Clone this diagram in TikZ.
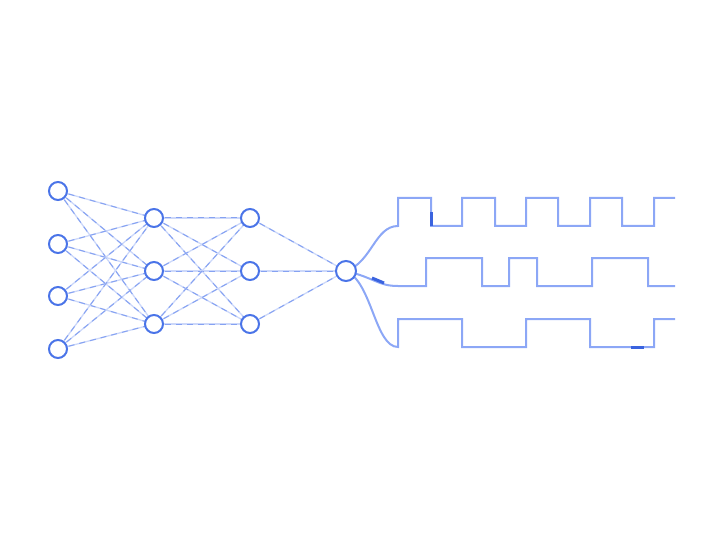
\documentclass[tikz,border=0pt]{standalone}
\usetikzlibrary{calc}
\definecolor{nodeblue}{HTML}{4A74E8}
\definecolor{edgelight}{HTML}{CCD8FA}
\definecolor{edgedash}{HTML}{86A2F2}
\definecolor{wave}{HTML}{8CA7F6}
\definecolor{pulse}{HTML}{3A63DF}
\tikzset{
  neuron/.style={circle, draw=nodeblue, fill=white, line width=2pt, minimum size=18pt, inner sep=0pt},
  outneuron/.style={neuron, minimum size=20pt},
  edgebase/.style={draw=edgelight, line width=1.3pt},
  edgedsh/.style={draw=edgedash, line width=1pt, dash pattern=on 6pt off 5pt},
  wavel/.style={draw=wave, line width=2pt, line join=miter},
  pulsel/.style={draw=pulse, line width=3pt},
}
\begin{document}
\begin{tikzpicture}[x=1pt,y=-1pt]
\useasboundingbox (0,0) rectangle (720,540);
% coordinates
\foreach \n/\y in {1/191,2/244,3/296,4/349} \coordinate (pi\n) at (58,\y);
\foreach \n/\y in {1/218,2/271,3/324} {\coordinate (ph\n) at (154,\y); \coordinate (pg\n) at (250,\y);}
\coordinate (po) at (346,271);
% edges
\foreach \a in {1,2,3,4} \foreach \b in {1,2,3} {
  \path[edgebase] (pi\a) -- (ph\b);
  \path[edgedsh] (pi\a) -- (ph\b);
}
\foreach \a in {1,2,3} \foreach \b in {1,2,3} {
  \path[edgebase] (ph\a) -- (pg\b);
  \path[edgedsh] (ph\a) -- (pg\b);
}
\foreach \a in {1,2,3} {
  \path[edgebase] (pg\a) -- (po);
  \path[edgedsh] (pg\a) -- (po);
}
% waves
\coordinate (wt) at (398,226);
\coordinate (wm) at (398,286);
\coordinate (wb) at (398,347);
\path[wavel] (po) .. controls (372,262) and (375,226) .. (wt)
  -- (398,198) -- (431,198) -- (431,226) -- (462,226) -- (462,198) -- (495,198) -- (495,226)
  -- (526,226) -- (526,198) -- (558,198) -- (558,226) -- (590,226) -- (590,198) -- (622,198)
  -- (622,226) -- (654,226) -- (654,198) -- (675,198);
\path[wavel] (po) .. controls (375,278) and (378,286) .. (wm)
  -- (426,286) -- (426,258) -- (482,258) -- (482,286) -- (509,286) -- (509,258) -- (537,258)
  -- (537,286) -- (592,286) -- (592,258) -- (648,258) -- (648,286) -- (675,286);
\path[wavel] (po) .. controls (372,282) and (375,347) .. (wb)
  -- (398,319) -- (462,319) -- (462,347) -- (526,347) -- (526,319) -- (590,319) -- (590,347)
  -- (654,347) -- (654,319) -- (675,319);
% pulses
\path[pulsel] (431,212) -- (431,226);
\path[pulsel] (372,278) -- (384,283);
\path[pulsel] (631,347) -- (644,347);
% nodes
\foreach \n in {1,2,3,4} \node[neuron] (i\n) at (pi\n) {};
\foreach \n in {1,2,3} {\node[neuron] (h\n) at (ph\n) {}; \node[neuron] (g\n) at (pg\n) {};}
\node[outneuron] (o) at (po) {};
\end{tikzpicture}
\end{document}
